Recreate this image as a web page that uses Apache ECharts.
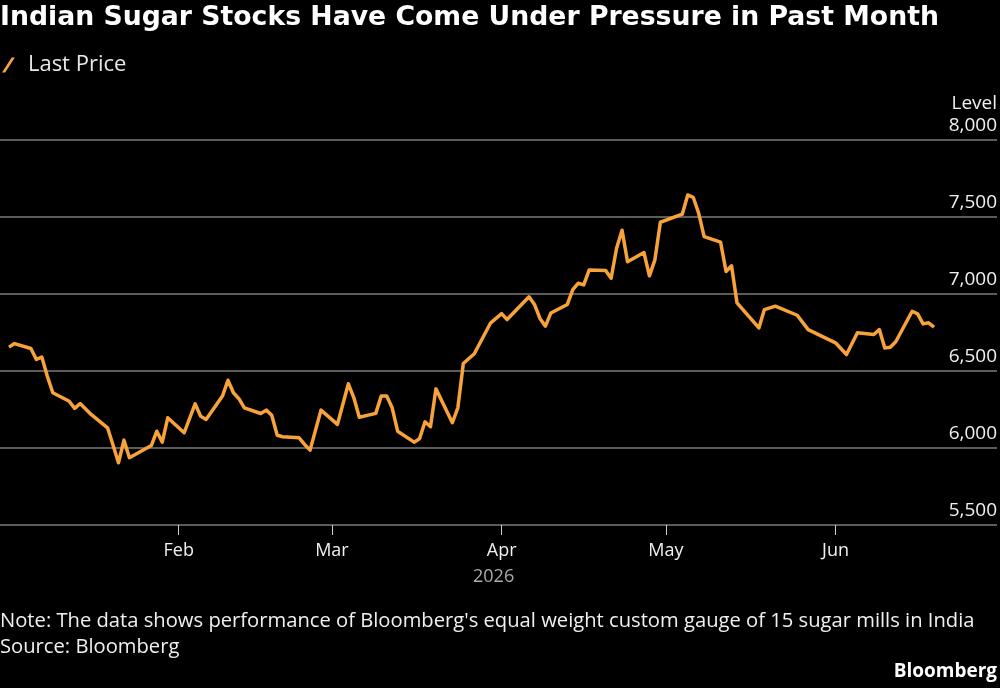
<!DOCTYPE html>
<html>
<head>
<meta charset="utf-8">
<script src="https://cdn.jsdelivr.net/npm/echarts@6/dist/echarts.min.js"></script>
<style>
    html, body { margin: 0; padding: 0; background: #000; }
    #myEcharts { width: 1000px; height: 688px; }
</style>
</head>
<body>
<div id="myEcharts"></div>
<script>
// turning points of the line (trading days, 2026)
const dates = [
    '2026-01-01', '2026-01-02', '2026-01-05', '2026-01-06', '2026-01-07', '2026-01-08', '2026-01-09',
    '2026-01-12', '2026-01-13', '2026-01-14', '2026-01-16', '2026-01-19', '2026-01-20', '2026-01-21',
    '2026-01-22', '2026-01-23', '2026-01-27', '2026-01-28', '2026-01-29', '2026-01-30',
    '2026-02-02', '2026-02-04', '2026-02-05', '2026-02-06', '2026-02-09', '2026-02-10', '2026-02-11',
    '2026-02-12', '2026-02-13', '2026-02-16', '2026-02-17', '2026-02-18', '2026-02-19', '2026-02-20',
    '2026-02-23', '2026-02-24', '2026-02-25', '2026-02-27',
    '2026-03-02', '2026-03-04', '2026-03-05', '2026-03-06', '2026-03-09', '2026-03-10', '2026-03-11',
    '2026-03-12', '2026-03-13', '2026-03-16', '2026-03-17', '2026-03-18', '2026-03-19', '2026-03-20',
    '2026-03-23', '2026-03-24', '2026-03-25', '2026-03-27', '2026-03-30',
    '2026-04-01', '2026-04-02', '2026-04-06', '2026-04-07', '2026-04-08', '2026-04-09', '2026-04-10',
    '2026-04-13', '2026-04-14', '2026-04-15', '2026-04-16', '2026-04-17', '2026-04-20', '2026-04-21',
    '2026-04-22', '2026-04-23', '2026-04-24', '2026-04-27', '2026-04-28', '2026-04-29', '2026-04-30',
    '2026-05-04', '2026-05-05', '2026-05-06', '2026-05-07', '2026-05-08', '2026-05-11', '2026-05-12',
    '2026-05-13', '2026-05-14', '2026-05-18', '2026-05-19', '2026-05-21', '2026-05-25', '2026-05-27',
    '2026-06-01', '2026-06-03', '2026-06-05', '2026-06-08', '2026-06-09', '2026-06-10', '2026-06-11',
    '2026-06-12', '2026-06-15', '2026-06-16', '2026-06-17', '2026-06-18', '2026-06-19'
];
const lastPrice = [
    6655, 6678, 6646, 6575, 6590, 6466, 6359,
    6304, 6257, 6289, 6218, 6131, 6020, 5904,
    6051, 5937, 6016, 6109, 6038, 6196,
    6099, 6287, 6207, 6185, 6337, 6440, 6359,
    6320, 6261, 6224, 6246, 6213, 6083, 6073,
    6066, 6023, 5986, 6246,
    6153, 6417, 6326, 6200, 6225, 6337, 6337,
    6261, 6109, 6038, 6060, 6170, 6138, 6384,
    6164, 6261, 6549, 6612, 6813,
    6873, 6834, 6982, 6932, 6841, 6791, 6877,
    6932, 7029, 7070, 7059, 7156, 7152, 7102,
    7297, 7414, 7210, 7269, 7118, 7222, 7466,
    7518, 7643, 7628, 7524, 7373, 7337, 7146,
    7183, 6943, 6780, 6899, 6921, 6862, 6769,
    6683, 6607, 6748, 6737, 6769, 6650, 6654,
    6690, 6888, 6871, 6806, 6813, 6785
];
const monthTicks = ['2026-02-01', '2026-03-01', '2026-04-01', '2026-05-01', '2026-06-01'];
const monthLabels = ['Feb', 'Mar', 'Apr', 'May', 'Jun'];
const levelMin = 5500;
const levelMax = 8000;
const levelStep = 500;

// timestamps so a plain value axis can carry the dates
const toTime = d => new Date(d.replace(' ', 'T') + (d.length === 10 ? 'T00:00:00' : ':00')).getTime();
const tickTimes = monthTicks.map(toTime);
const font = '"Open Sans", "Noto Sans", sans-serif';

let chart = echarts.init(document.getElementById('myEcharts'));
chart.setOption({
    backgroundColor: '#000',
    animation: false,
    title: {
        text: 'Indian Sugar Stocks Have Come Under Pressure in Past Month',
        left: 0,
        top: 5,
        padding: 0,
        textStyle: { color: '#fff', fontSize: 26.7, fontWeight: 'bold', fontFamily: '"DejaVu Sans", sans-serif' }
    },
    legend: {
        data: ['Last Price'],
        left: 2,
        top: 54,
        padding: 0,
        icon: 'path://M0,14L3,14L12,0L9,0Z',
        itemWidth: 13,
        itemHeight: 15,
        textStyle: { color: '#e8e8e8', fontSize: 22, fontFamily: font, padding: [0, 0, 0, 8] }
    },
    grid: { left: 0, right: 3, top: 140, bottom: 163 },
    xAxis: {
        type: 'value',
        min: toTime('2025-12-30 08:30'),
        max: toTime('2026-06-30 12:00'),
        axisLine: { show: false },
        splitLine: { show: false },
        axisTick: {
            show: true,
            customValues: tickTimes,
            length: 10,
            lineStyle: { color: '#ccc', width: 1 }
        },
        axisLabel: {
            customValues: tickTimes,
            margin: 17,
            color: '#f0f0f0',
            fontSize: 18,
            fontFamily: font,
            formatter: v => monthLabels[tickTimes.indexOf(v)] || ''
        }
    },
    yAxis: {
        type: 'value',
        position: 'right',
        min: levelMin,
        max: levelMax,
        interval: levelStep,
        name: 'Level',
        nameLocation: 'end',
        nameGap: 27,
        nameTextStyle: { color: '#f0f0f0', fontSize: 19, fontFamily: font, align: 'right', verticalAlign: 'bottom' },
        axisLine: { show: false },
        axisTick: { show: false },
        axisLabel: {
            inside: true,
            margin: 0,
            color: '#f0f0f0',
            fontSize: 19,
            fontFamily: font,
            verticalAlign: 'bottom',
            padding: [0, 0, 5, 0],
            formatter: v => v.toLocaleString('en-US')
        },
        splitLine: { show: true, lineStyle: { color: '#5c5c5c', width: 2 } }
    },
    series: [
        {
            name: 'Last Price',
            type: 'line',
            data: dates.map((d, i) => [toTime(d), lastPrice[i]]),
            symbol: 'none',
            color: '#f8a33a',
            lineStyle: { width: 3.5, color: '#f8a33a', join: 'round' }
        }
    ],
    graphic: [
        {
            type: 'text', left: 473, top: 568,
            style: { text: '2026', fill: '#aaa', fontSize: 18, fontFamily: font, textAlign: 'center' }
        },
        {
            type: 'text', left: 0, top: 611,
            style: { text: "Note: The data shows performance of Bloomberg's equal weight custom gauge of 15 sugar mills in India", fill: '#f0f0f0', fontSize: 20.2, fontFamily: font }
        },
        {
            type: 'text', left: 0, top: 637,
            style: { text: 'Source: Bloomberg', fill: '#f0f0f0', fontSize: 20.2, fontFamily: font }
        },
        {
            type: 'text', right: 3, top: 662,
            style: { text: 'Bloomberg', fill: '#fff', fontSize: 19, fontWeight: 'bold', fontFamily: font }
        }
    ]
});
</script>
</body>
</html>
